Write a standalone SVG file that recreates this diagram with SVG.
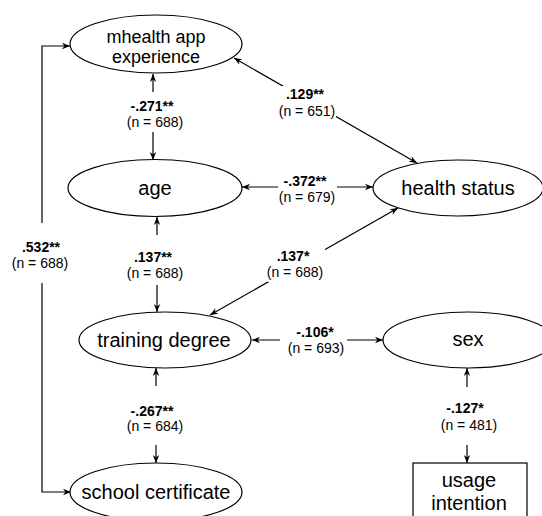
<svg xmlns="http://www.w3.org/2000/svg" width="542" height="516" viewBox="0 0 542 516">
<defs>
<marker id="ah" viewBox="0 0 10 10" refX="10" refY="5" markerWidth="8" markerHeight="8" markerUnits="userSpaceOnUse" orient="auto-start-reverse">
<path d="M0,1 L10,5 L0,9 L3,5 z" fill="#000"/>
</marker>
<style>
.node{fill:#fff;stroke:#000;stroke-width:1.2}
.nt{font-family:"Liberation Sans",Arial,Helvetica,sans-serif;font-size:20px;fill:#000;text-anchor:middle}
.nt18{font-size:18px}
.edge{fill:none;stroke:#000;stroke-width:1.2;marker-start:url(#ah);marker-end:url(#ah)}
.lb{fill:#fff;stroke:none}
.c{font-family:"Liberation Sans",Arial,Helvetica,sans-serif;font-size:14px;font-weight:bold;fill:#000;text-anchor:middle}
.n{font-family:"Liberation Sans",Arial,Helvetica,sans-serif;font-size:14px;fill:#000;text-anchor:middle}
</style>
</defs>
<rect width="542" height="516" fill="#fff"/>
<g id="connectors">
<path class="edge" d="M153,74 L153,160"/>
<path class="edge" d="M234,58 L417,163"/>
<path class="edge" d="M242,187 L373,187"/>
<path class="edge" d="M398,208 L210,315"/>
<path class="edge" d="M157,217 L157,312"/>
<path class="edge" d="M70,46 L42,46 L42,492 L71,492"/>
<path class="edge" d="M252,340 L383,340"/>
<path class="edge" d="M156,368 L156,463"/>
<path class="edge" d="M467,368 L467,463"/>
</g>
<g id="labels">
<g id="l-271"><rect class="lb" x="127" y="92" width="54" height="40"/><text class="c" x="152" y="111">-.271**</text><text class="n" x="155" y="127">(n = 688)</text></g>
<g id="l129"><rect class="lb" x="279" y="86" width="57" height="33"/><text class="c" x="305" y="99">.129**</text><text class="n" x="307" y="116">(n = 651)</text></g>
<g id="l-372"><rect class="lb" x="278" y="173" width="59" height="33"/><text class="c" x="305" y="186">-.372**</text><text class="n" x="307" y="202">(n = 679)</text></g>
<g id="l137a"><rect class="lb" x="268" y="248" width="57" height="34"/><text class="c" x="293" y="261">.137*</text><text class="n" x="295" y="277">(n = 688)</text></g>
<g id="l137b"><rect class="lb" x="128" y="235" width="55" height="50"/><text class="c" x="153" y="262">.137**</text><text class="n" x="155" y="278">(n = 688)</text></g>
<g id="l532"><rect class="lb" x="13" y="223" width="57" height="60"/><text class="c" x="41" y="252">.532**</text><text class="n" x="40" y="268">(n = 688)</text></g>
<g id="l-106"><rect class="lb" x="280" y="325" width="67" height="33"/><text class="c" x="315" y="337">-.106*</text><text class="n" x="316" y="353">(n = 693)</text></g>
<g id="l-267"><rect class="lb" x="128" y="386" width="55" height="59"/><text class="c" x="152" y="416">-.267**</text><text class="n" x="155" y="431">(n = 684)</text></g>
<g id="l-127"><rect class="lb" x="441" y="387" width="55" height="58"/><text class="c" x="465" y="413">-.127*</text><text class="n" x="469" y="430">(n = 481)</text></g>
</g>
<g id="mhealth"><ellipse class="node" cx="156" cy="44" rx="86" ry="29"/><text class="nt nt18" x="156" y="43">mhealth app</text><text class="nt nt18" x="156" y="63">experience</text></g>
<g id="age"><ellipse class="node" cx="155" cy="188" rx="87" ry="28.5"/><text class="nt" x="155" y="195">age</text></g>
<g id="health"><ellipse class="node" cx="458" cy="188" rx="85" ry="28"/><text class="nt" x="458" y="195">health status</text></g>
<g id="training"><ellipse class="node" cx="165" cy="340" rx="86" ry="28"/><text class="nt" x="164" y="347">training degree</text></g>
<g id="sex"><ellipse class="node" cx="468" cy="340" rx="85" ry="28"/><text class="nt" x="468" y="346">sex</text></g>
<g id="school"><ellipse class="node" cx="156" cy="492" rx="86" ry="29"/><text class="nt" x="156" y="499">school certificate</text></g>
<g id="usage"><rect class="node" x="413" y="463" width="114" height="62"/><text class="nt" x="469" y="487">usage</text><text class="nt" x="469" y="510">intention</text></g>
</svg>
